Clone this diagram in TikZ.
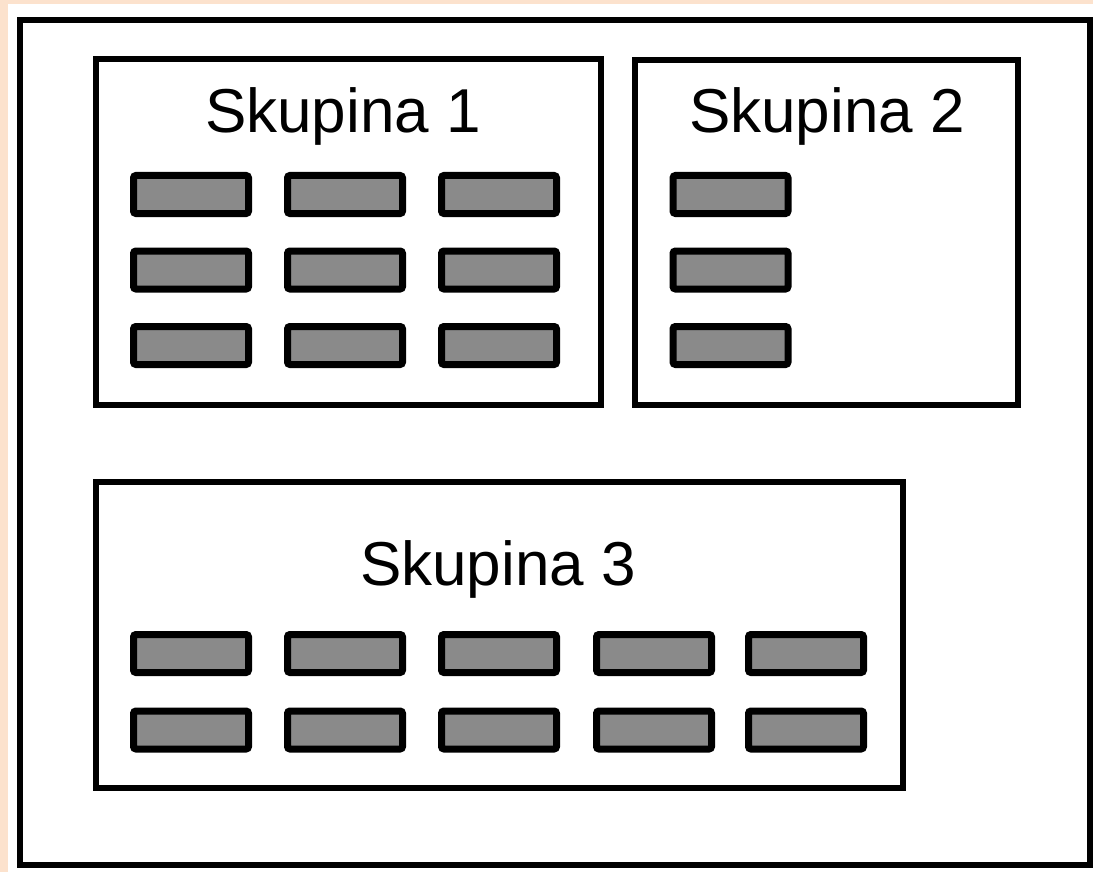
\documentclass[tikz,border=0pt]{standalone}
\usepackage{fontspec}
\setmainfont{Liberation Sans}
\definecolor{peach}{RGB}{252,226,205}
\definecolor{barfill}{RGB}{138,138,138}
\begin{document}
\begin{tikzpicture}[x=1pt,y=-1pt,
  groupbox/.style={draw=black,line width=6pt,fill=white},
  bar/.style={draw=black,line width=7pt,fill=barfill,rounded corners=2.5pt,
    minimum width=115pt,minimum height=38pt,inner sep=0pt,rectangle},
  title/.style={font=\fontsize{62}{70}\selectfont,anchor=base,inner sep=0pt}]
\useasboundingbox (0,0) rectangle (1093,872);
\fill[peach] (0,0) rectangle (1093,872);
\fill[white] (8,4) rectangle (1093,872);
\draw[line width=6pt] (20,20) rectangle (1090,865);
% groups
\draw[groupbox] (96,59) rectangle (601,405);
\draw[groupbox] (635,60) rectangle (1018,405);
\draw[groupbox] (96,482) rectangle (903,788);
\node[title] (t1) at (343,133) {Skupina 1};
\node[title] (t2) at (827,133) {Skupina 2};
\node[title] (t3) at (498,585) {Skupina 3};
% group 1 bars
\foreach \c/\x in {1/191,2/345,3/499}{
  \foreach \r/\y in {1/194.5,2/270,3/345.5}{
    \node[bar] (a\r\c) at (\x,\y) {};
  }
}
% group 2 bars
\foreach \r/\y in {1/194.5,2/270,3/345.5}{
  \node[bar] (b\r) at (730.5,\y) {};
}
% group 3 bars
\foreach \c/\x in {1/191,2/345,3/499,4/654,5/806}{
  \foreach \r/\y in {1/653.5,2/730}{
    \node[bar] (c\r\c) at (\x,\y) {};
  }
}
\end{tikzpicture}
\end{document}
